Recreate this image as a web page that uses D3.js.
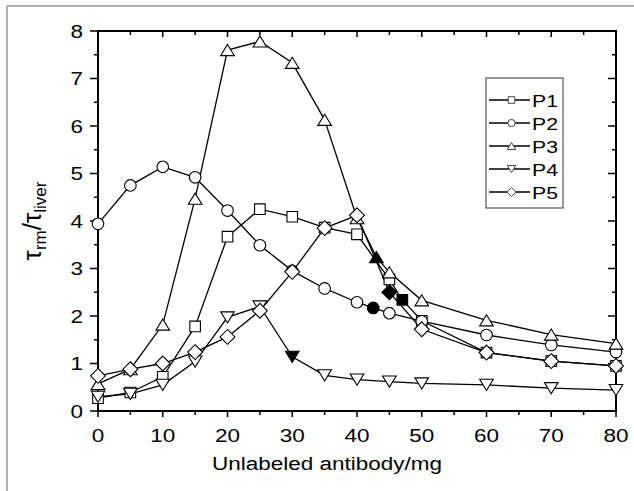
<!DOCTYPE html>
<html>
<head>
<meta charset="utf-8">
<script src="https://cdn.jsdelivr.net/npm/d3@7"></script>
<style>
  body { margin: 0; background: #fff; }
  text { font-family: "Liberation Sans", Arial, sans-serif; fill: #000; }
</style>
</head>
<body>
<div id="canvas"></div>
<script>
// data
var xTicks = [0, 10, 20, 30, 40, 50, 60, 70, 80];
var yTicks = [0, 1, 2, 3, 4, 5, 6, 7, 8];

var p1X = [0, 5, 10, 15, 20, 25, 30, 35, 40, 45, 47, 50, 60, 70, 80];
var p1Y = [0.27, 0.39, 0.72, 1.78, 3.67, 4.25, 4.09, 3.86, 3.72, 2.77, 2.34, 1.90, 1.23, 1.05, 0.95];
var p2X = [0, 5, 10, 15, 20, 25, 30, 35, 40, 42.5, 45, 50, 60, 70, 80];
var p2Y = [3.94, 4.75, 5.14, 4.92, 4.22, 3.49, 2.95, 2.58, 2.29, 2.17, 2.06, 1.89, 1.60, 1.39, 1.24];
var p3X = [0, 5, 10, 15, 20, 25, 30, 35, 40, 43, 45, 50, 60, 70, 80];
var p3Y = [0.57, 0.88, 1.82, 4.47, 7.60, 7.78, 7.33, 6.13, 4.06, 3.24, 2.92, 2.33, 1.91, 1.61, 1.42];
var p4X = [0, 5, 10, 15, 20, 25, 30, 35, 40, 45, 50, 60, 70, 80];
var p4Y = [0.30, 0.36, 0.55, 1.04, 1.97, 2.20, 1.14, 0.75, 0.66, 0.62, 0.58, 0.55, 0.48, 0.44];
var p5X = [0, 5, 10, 15, 20, 25, 30, 35, 40, 45, 50, 60, 70, 80];
var p5Y = [0.74, 0.88, 1.00, 1.24, 1.56, 2.11, 2.93, 3.85, 4.12, 2.50, 1.72, 1.23, 1.05, 0.95];
// the solid black point of each series (x value)
var filledX = [47, 42.5, 43, 30, 45];

var names = ['P1', 'P2', 'P3', 'P4', 'P5'];
var shapes = ['square', 'circle', 'up', 'down', 'diamond'];

var W = 634, H = 491;
var m = {t: 31, r: 18, b: 80, l: 98};
var w = W - m.l - m.r, h = H - m.t - m.b;

var svg = d3.select('#canvas').append('svg')
    .attr('width', W).attr('height', H);

// grey frame of the figure
svg.append('path')
    .attr('d', 'M7,' + H + 'V6H' + W)
    .attr('fill', 'none').attr('stroke', '#b0b0b0').attr('stroke-width', 2);

var plot = svg.append('g').attr('transform', 'translate(' + m.l + ',' + m.t + ')');

var scaleX = d3.scaleLinear().domain([0, 80]).range([0, w]);
var scaleY = d3.scaleLinear().domain([0, 8]).range([h, 0]);

// text in the original is stretched sideways
var SX = 1.25;
function label(g, x, y, str, size, anchor) {
    return g.append('text')
        .attr('transform', 'translate(' + x + ',' + y + ') scale(' + SX + ',1)')
        .attr('text-anchor', anchor)
        .attr('font-size', size)
        .text(str);
}

// ticks
var minorX = d3.range(0, 81, 5), minorY = d3.range(0, 8.01, 0.5);
var tk = plot.append('g').attr('stroke', '#000').attr('stroke-width', 1.5);
minorX.forEach(function(v) {
    var major = v % 10 === 0;
    tk.append('line').attr('x1', scaleX(v)).attr('x2', scaleX(v))
        .attr('y1', h).attr('y2', h + (major ? 6 : 4));
    tk.append('line').attr('x1', scaleX(v)).attr('x2', scaleX(v))
        .attr('y1', 0).attr('y2', major ? 6 : 4);
});
minorY.forEach(function(v) {
    var major = v % 1 === 0;
    tk.append('line').attr('y1', scaleY(v)).attr('y2', scaleY(v))
        .attr('x1', 0).attr('x2', major ? -8 : -4);
    tk.append('line').attr('y1', scaleY(v)).attr('y2', scaleY(v))
        .attr('x1', w).attr('x2', w - (major ? 8 : 4));
});
plot.append('rect').attr('width', w).attr('height', h)
    .attr('fill', 'none').attr('stroke', '#000').attr('stroke-width', 2);

xTicks.forEach(function(v) {
    label(plot, scaleX(v), h + 31, v, 18, 'middle');
});
yTicks.forEach(function(v) {
    label(plot, -15, scaleY(v) + 6.5, v, 18, 'end');
});

label(svg, 327, 470, 'Unlabeled antibody/mg', 18, 'middle');

var yl = svg.append('text')
    .attr('transform', 'translate(41,221) rotate(-90)')
    .attr('text-anchor', 'middle');
yl.append('tspan').attr('font-size', 26).text('τ');
yl.append('tspan').attr('font-size', 17).attr('dy', 5).text('rm');
yl.append('tspan').attr('font-size', 26).attr('dy', -5).text('/');
yl.append('tspan').attr('font-size', 26).text('τ');
yl.append('tspan').attr('font-size', 17).attr('dy', 5).text('liver');

function markerPath(shape, s) {
    // s is half size
    if (shape === 'square') return 'M' + -s + ',' + -s + 'h' + 2 * s + 'v' + 2 * s + 'h' + -2 * s + 'Z';
    if (shape === 'circle') return d3.arc()({innerRadius: 0, outerRadius: s, startAngle: 0, endAngle: 2 * Math.PI});
    if (shape === 'up') return 'M0,' + -s * 0.9 + 'L' + s * 1.1 + ',' + s * 0.9 + 'L' + -s * 1.1 + ',' + s * 0.9 + 'Z';
    if (shape === 'down') return 'M0,' + s * 0.9 + 'L' + s * 1.1 + ',' + -s * 0.9 + 'L' + -s * 1.1 + ',' + -s * 0.9 + 'Z';
    return 'M0,' + -s * 1.2 + 'L' + s * 1.2 + ',0L0,' + s * 1.2 + 'L' + -s * 1.2 + ',0Z';
}
var sizes = {square: 5.3, circle: 5.8, up: 6.2, down: 6.2, diamond: 6.2};

var series = [
    {x: p1X, y: p1Y}, {x: p2X, y: p2Y}, {x: p3X, y: p3Y}, {x: p4X, y: p4Y}, {x: p5X, y: p5Y}
];
var line = d3.line().x(function(d) { return scaleX(d[0]); }).y(function(d) { return scaleY(d[1]); });

series.forEach(function(s) {
    var pts = d3.zip(s.x, s.y);
    plot.append('path').datum(pts).attr('d', line)
        .attr('fill', 'none').attr('stroke', '#000').attr('stroke-width', 1.3);
});
series.forEach(function(s, i) {
    var pts = d3.zip(s.x, s.y);
    plot.selectAll('.m' + i).data(pts).enter().append('path')
        .attr('class', 'm' + i)
        .attr('transform', function(d) { return 'translate(' + scaleX(d[0]) + ',' + scaleY(d[1]) + ')'; })
        .attr('d', markerPath(shapes[i], sizes[shapes[i]]))
        .attr('fill', function(d) { return d[0] === filledX[i] ? '#000' : '#fff'; })
        .attr('stroke', '#000').attr('stroke-width', 1.1);
});

// legend
var lg = svg.append('g').attr('transform', 'translate(486,78)');
lg.append('rect').attr('width', 77).attr('height', 130)
    .attr('fill', '#fff').attr('stroke', '#555').attr('stroke-width', 1.2);
names.forEach(function(n, i) {
    var y = 22 + i * 23;
    lg.append('line').attr('x1', 3).attr('x2', 44).attr('y1', y).attr('y2', y)
        .attr('stroke', '#000').attr('stroke-width', 1.3);
    lg.append('path').attr('transform', 'translate(25.5,' + y + ')')
        .attr('d', markerPath(shapes[i], sizes[shapes[i]] * 0.62))
        .attr('fill', '#fff').attr('stroke', '#444').attr('stroke-width', 1);
    label(lg, 46, y + 6.5, n, 17, 'start');
});
</script>
</body>
</html>
